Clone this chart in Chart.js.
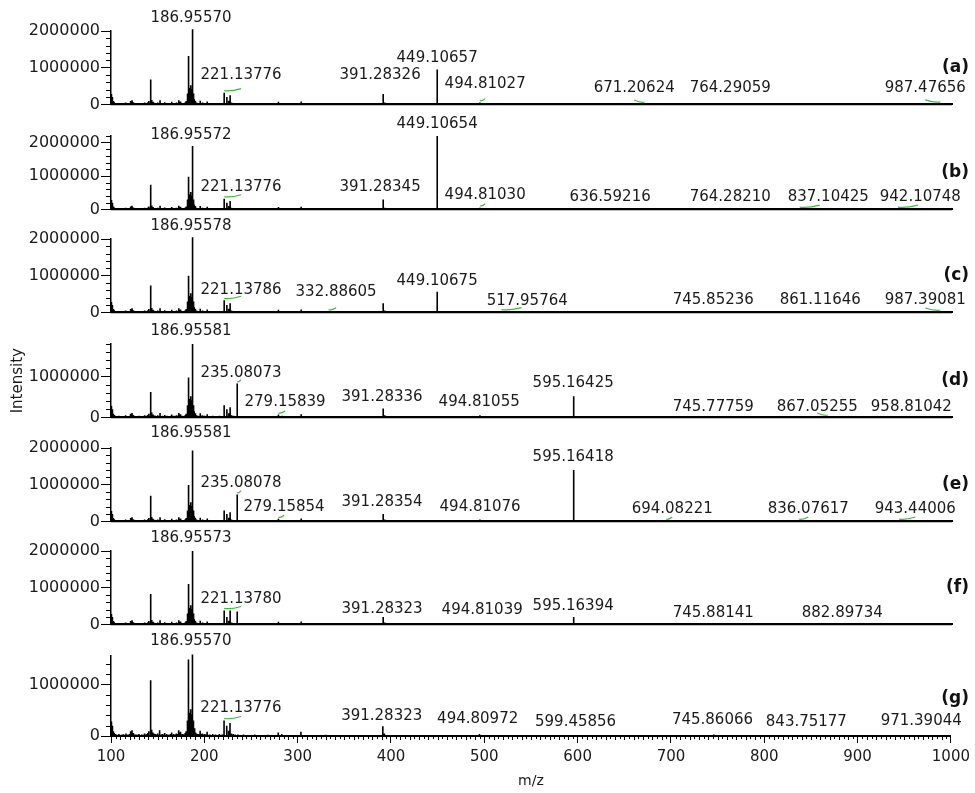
<!DOCTYPE html>
<html><head><meta charset="utf-8">
<script src="https://cdn.jsdelivr.net/npm/chart.js@4.4.1/dist/chart.umd.min.js"></script>
<style>
html,body{margin:0;padding:0;background:#fff}
#wrap{position:relative;width:975px;height:793px;overflow:hidden;background:#fff}
#wrap canvas{position:absolute;left:0}
</style></head>
<body><div id="wrap"></div>
<script>
// ---------------- DATA ----------------
const panelTags = ['(a)','(b)','(c)','(d)','(e)','(f)','(g)'];
const yMax = [2000000, 2200000, 2000000, 1800000, 2000000, 2000000, 1550000];
const yTickVals = [0, 1000000, 2000000];
const xTicks = [100,200,300,400,500,600,700,800,900,1000];

// low-level background peaks common to all spectra (m/z, intensity)
const bgMz  = [100.5,101.2,101.8,102.6,103.5,104.5,106,107.2,108.5,110,111,112.3,113.5,115,116,117.5,118.5,120,121,122.5,124,125.5,127,128.5,130,131.5,133,134.5,136,137.5,138.5,139.5,140.5,142.8,143.6,145,146.5,147.5,149,150,151.5,152.5,154,155,156.5,157.5,159,160,161.5,162.5,164,165,166.5,167.5,169,170,171.5,172.5,173.5,174.5,176,177,178.5,179.5,180.5,181.5,182.2,184,184.5,185,185.5,186.2,187.5,188,188.6,189,190,190.5,191.5,193,194.5,195.5,197,198,199.5,200.5,202,203,204.5,206,207.5,209,210.5,212,214,216,218,219.5,224,226,229,231,233,236,239,242,245,248,251,254,258,261,264,268,271,274,277,279.2,281,283,286,289,292,296,300,303.5,307,311,315,320,325,330,335,340,346,352,358,365,371,378,385,393,398,405,412,420,428,435,442,455,462,470,480,488,500,510,522,535,548,560,574,588,605,620,635,650,665,680,698,715,732,750,770,790,810,830,850,870,890,910,930,950,970,990];
const bgInt = [280000,200000,150000,90000,60000,40000,30000,20000,40000,20000,25000,30000,35000,20000,50000,25000,30000,40000,90000,110000,60000,30000,30000,25000,40000,20000,30000,25000,50000,30000,40000,60000,90000,150000,120000,70000,45000,40000,30000,50000,35000,110000,30000,40000,30000,60000,30000,40000,25000,30000,40000,70000,30000,40000,30000,50000,40000,110000,70000,80000,35000,40000,30000,60000,90000,250000,300000,420000,450000,480000,520000,420000,380000,300000,250000,150000,100000,70000,50000,40000,35000,100000,40000,50000,30000,40000,30000,80000,25000,30000,20000,40000,20000,30000,20000,40000,25000,30000,200000,100000,50000,40000,30000,30000,20000,30000,15000,20000,15000,30000,12000,20000,12000,25000,12000,20000,12000,70000,20000,40000,12000,20000,10000,15000,10000,80000,10000,15000,10000,15000,8000,25000,8000,15000,8000,20000,8000,15000,8000,15000,8000,50000,10000,15000,8000,15000,8000,15000,8000,8000,15000,8000,15000,8000,10000,8000,10000,8000,10000,8000,10000,8000,10000,8000,10000,8000,10000,8000,10000,8000,10000,8000,10000,8000,10000,8000,10000,8000,10000,8000,10000,8000,10000,8000];

// main peaks of each spectrum
const mzA  = [142, 183, 186.96, 221.14, 227.5, 391.28, 449.11, 494.81, 671.21, 764.29, 987.48];
const intA = [680000, 1320000, 2050000, 320000, 250000, 280000, 950000, 50000, 10000, 30000, 15000];
const mzB  = [142, 183, 186.96, 221.14, 227.5, 391.28, 449.11, 494.81, 636.59, 764.28, 837.10, 942.11];
const intB = [740000, 980000, 1900000, 320000, 250000, 300000, 2200000, 50000, 8000, 10000, 10000, 10000];
const mzC  = [142, 183, 186.96, 221.14, 227.5, 332.89, 391.28, 449.11, 517.96, 745.85, 861.12, 987.39];
const intC = [730000, 1000000, 2050000, 330000, 250000, 20000, 250000, 560000, 20000, 10000, 10000, 10000];
const mzD  = [142, 183, 186.96, 221.1, 227.5, 235.08, 279.16, 391.28, 494.81, 595.16, 745.78, 867.05, 958.81];
const intD = [620000, 980000, 1800000, 300000, 250000, 830000, 60000, 220000, 50000, 520000, 10000, 10000, 10000];
const mzE  = [142, 183, 186.96, 221.1, 227.5, 235.08, 279.16, 391.28, 494.81, 595.16, 694.08, 836.08, 943.44];
const intE = [700000, 990000, 1930000, 300000, 250000, 730000, 60000, 200000, 50000, 1400000, 10000, 10000, 10000];
const mzF  = [142, 183, 186.96, 221.14, 227.5, 235.08, 391.28, 494.81, 595.16, 745.88, 882.90];
const intF = [830000, 1100000, 2000000, 380000, 380000, 350000, 200000, 40000, 200000, 10000, 10000];
const mzG  = [142, 183, 186.96, 221.14, 227.5, 391.28, 494.81, 599.46, 745.86, 843.75, 971.39];
const intG = [1080000, 1480000, 1580000, 300000, 250000, 190000, 40000, 10000, 30000, 10000, 10000];

// peak annotations: text, and anchor (m/z, intensity) of the text centre
const labA = ['186.95570','221.13776','391.28326','449.10657','494.81027','671.20624','764.29059','987.47656'];
const lxA  = [185.6, 239.2, 388.0, 449.0, 500.4, 659.9, 762.7, 971.4];
const lyA  = [2350000, 800000, 800000, 1250000, 550000, 450000, 450000, 450000];
const labB = ['186.95572','449.10654','221.13776','391.28345','494.81030','636.59216','764.28210','837.10425','942.10748'];
const lxB  = [185.6, 449.0, 239.2, 388.0, 500.4, 634.2, 762.7, 867.6, 966.1];
const lyB  = [2230000, 2550000, 680000, 680000, 420000, 380000, 380000, 380000, 380000];
const labC = ['186.95578','221.13786','332.88605','449.10675','517.95764','745.85236','861.11646','987.39081'];
const lxC  = [185.6, 239.2, 340.9, 449.0, 545.4, 744.5, 859.0, 971.4];
const lyC  = [2350000, 620000, 560000, 850000, 300000, 330000, 330000, 330000];
const labD = ['186.95581','235.08073','279.15839','391.28336','494.81055','595.16425','745.77759','867.05255','958.81042'];
const lxD  = [185.6, 239.2, 286.3, 390.1, 494.0, 594.6, 744.5, 855.8, 956.5];
const lyD  = [2120000, 1080000, 380000, 500000, 380000, 830000, 260000, 260000, 260000];
const labE = ['186.95581','235.08078','279.15854','391.28354','494.81076','595.16418','694.08221','836.07617','943.44006'];
const lxE  = [185.6, 239.2, 285.2, 390.1, 495.0, 594.6, 700.6, 846.2, 960.7];
const lyE  = [2400000, 1030000, 400000, 530000, 380000, 1750000, 330000, 330000, 330000];
const labF = ['186.95573','221.13780','391.28323','494.81039','595.16394','745.88141','882.89734'];
const lxF  = [185.6, 239.2, 390.1, 497.2, 594.6, 744.5, 882.6];
const lyF  = [2350000, 700000, 430000, 380000, 500000, 300000, 320000];
const labG = ['186.95570','221.13776','391.28323','494.80972','599.45856','745.86066','843.75177','971.39044'];
const lxG  = [185.6, 239.2, 390.1, 492.9, 597.8, 744.5, 845.1, 968.2];
const lyG  = [1840000, 540000, 390000, 320000, 270000, 300000, 270000, 280000];

// ---------------- LAYOUT ----------------
const ZERO = [111, 216, 319, 424, 528, 631, 736];
const AXH = 80, TOPPAD = 110, LEFTW = 111, RIGHTPAD = 23;
const FONT = '"DejaVu Sans", sans-serif';

const spectra = [
  {mz:mzA,it:intA,lab:labA,lx:lxA,ly:lyA},
  {mz:mzB,it:intB,lab:labB,lx:lxB,ly:lyB},
  {mz:mzC,it:intC,lab:labC,lx:lxC,ly:lyC},
  {mz:mzD,it:intD,lab:labD,lx:lxD,ly:lyD},
  {mz:mzE,it:intE,lab:labE,lx:lxE,ly:lyE},
  {mz:mzF,it:intF,lab:labF,lx:lxF,ly:lyF},
  {mz:mzG,it:intG,lab:labG,lx:lxG,ly:lyG}
];

function stickPoints(mz, it){
  const peaks = [];
  bgMz.forEach((m,i)=>peaks.push([m,bgInt[i]]));
  mz.forEach((m,i)=>peaks.push([m,it[i]]));
  peaks.sort((a,b)=>a[0]-b[0]);
  const pts = [{x:100,y:0}];
  peaks.forEach(p=>{pts.push({x:p[0],y:0});pts.push({x:p[0],y:p[1]});pts.push({x:p[0],y:0});});
  pts.push({x:1000,y:0});
  return {pts, peaks};
}

const annot = {
  id:'annot',
  afterDraw(chart, args, opts){
    const ctx = chart.ctx, xs = chart.scales.x, ys = chart.scales.y, ca = chart.chartArea;
    const sp = opts.sp;
    ctx.save();
    // minor y ticks
    ctx.strokeStyle = '#000'; ctx.lineWidth = 1;
    for (let v = 200000; v < ys.max + 1; v += 200000){
      if (v % 1000000 === 0) continue;
      const y = Math.round(ys.getPixelForValue(v)) + 0.5;
      ctx.beginPath(); ctx.moveTo(ca.left - 5, y); ctx.lineTo(ca.left, y); ctx.stroke();
    }
    // minor x ticks on bottom panel
    if (opts.bottom){
      for (let v = 105; v < 1000; v += 5){
        if (v % 100 === 0) continue;
        const x = Math.round(xs.getPixelForValue(v)) + 0.5;
        const len = (v % 10 === 0) ? 4 : 3;
        ctx.beginPath(); ctx.moveTo(x, ca.bottom); ctx.lineTo(x, ca.bottom + len); ctx.stroke();
      }
    }
    // peak labels + green connectors
    ctx.font = '15px ' + FONT;
    ctx.textAlign = 'center'; ctx.textBaseline = 'middle';
    sp.lab.forEach((t,i)=>{
      const x = xs.getPixelForValue(sp.lx[i]);
      const y = ys.getPixelForValue(sp.ly[i]);
      const pm = parseFloat(t);
      const px = xs.getPixelForValue(pm);
      let best = null;
      opts.peaks.forEach(p=>{ if(best===null || Math.abs(p[0]-pm) < Math.abs(best[0]-pm)) best = p; });
      const ptop = ys.getPixelForValue(best ? best[1] : 0);
      if (Math.abs(px - x) > 3.5){
        const dx = Math.max(-20, Math.min(20, x - px));
        ctx.strokeStyle = '#3cb83c'; ctx.lineWidth = 1.2;
        ctx.beginPath();
        ctx.moveTo(px, ptop - 2);
        ctx.quadraticCurveTo(px + dx*0.4, ptop - 1, px + dx, ptop - 4);
        ctx.stroke();
      }
      ctx.fillStyle = '#1a1a1a';
      ctx.fillText(t, x, y);
    });
    // panel tag
    ctx.font = 'bold 17px ' + FONT;
    ctx.textAlign = 'right'; ctx.fillStyle = '#111';
    ctx.fillText(opts.tag, 969, ca.bottom - 37);
    ctx.restore();
  }
};

const wrap = document.getElementById('wrap');
spectra.forEach((sp, i)=>{
  const bottom = (i === 6);
  const bottomH = bottom ? (793 - ZERO[i]) : 4;
  const top = ZERO[i] - AXH - TOPPAD;
  const h = TOPPAD + AXH + bottomH;
  const cv = document.createElement('canvas');
  cv.width = 975; cv.height = h;
  cv.style.top = top + 'px'; cv.style.width = '975px'; cv.style.height = h + 'px';
  wrap.appendChild(cv);
  const sd = stickPoints(sp.mz, sp.it);
  new Chart(cv.getContext('2d'), {
    type:'line',
    data:{datasets:[{data:sd.pts, borderColor:'#000', borderWidth:1.6, pointRadius:0, tension:0, fill:false, clip:false}]},
    options:{
      responsive:false, maintainAspectRatio:false, animation:false, events:[],
      layout:{padding:{top:TOPPAD, right:RIGHTPAD, bottom: bottom ? 0 : bottomH, left:0}},
      plugins:{legend:{display:false}, tooltip:{enabled:false},
        annot:{sp:sp, peaks:sd.peaks, tag:panelTags[i], bottom:bottom}},
      scales:{
        x:{type:'linear', min:100, max:1000,
           afterFit:(s)=>{ s.height = bottom ? bottomH : 0; },
           afterBuildTicks:(s)=>{ s.ticks = xTicks.map(v=>({value:v})); },
           grid:{display:true, drawOnChartArea:false, drawTicks:bottom, tickLength:7, tickColor:'#000', tickWidth:1},
           border:{display:true, color:'#000', width:2},
           ticks:{display:bottom, color:'#1a1a1a', font:{family:FONT, size:15}, padding:5, maxRotation:0, autoSkip:false,
                  callback:(v)=>String(v)},
           title:{display:bottom, text:'m/z', color:'#1a1a1a', font:{family:FONT, size:14}, padding:{top:0,bottom:3}}
        },
        y:{type:'linear', min:0, max:yMax[i],
           afterFit:(s)=>{ s.width = LEFTW; },
           afterBuildTicks:(s)=>{ s.ticks = yTickVals.filter(v=>v<=yMax[i]).map(v=>({value:v})); },
           grid:{display:true, drawOnChartArea:false, tickLength:10, tickColor:'#000', tickWidth:1},
           border:{display:true, color:'#000', width:1.5},
           ticks:{color:'#1a1a1a', font:{family:FONT, size:16}, padding:1, autoSkip:false,
                  callback:(v)=>String(v)},
           title:{display:(i===3), text:'Intensity', color:'#1a1a1a', font:{family:FONT, size:15}, padding:{top:9,bottom:0}}
        }
      }
    },
    plugins:[annot]
  });
});
</script>
</body></html>
